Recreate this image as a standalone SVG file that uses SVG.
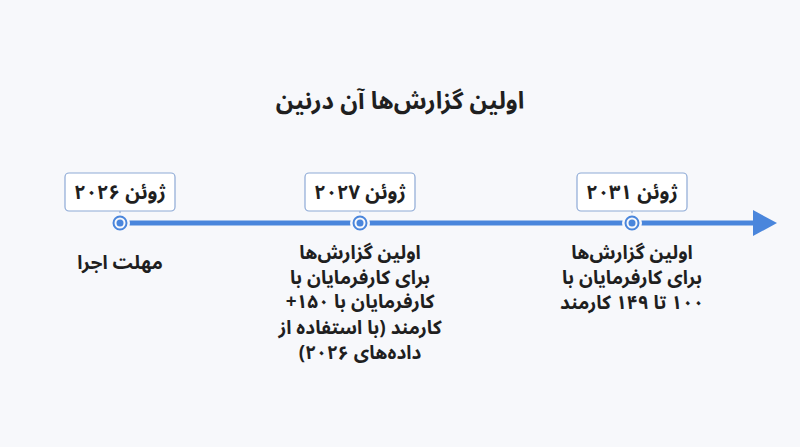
<svg xmlns="http://www.w3.org/2000/svg" width="800" height="447" viewBox="0 0 800 447">
<style>
text{font-family:"Noto Sans Arabic","Vazirmatn","DejaVu Sans","Noto Sans",sans-serif;font-weight:bold;fill:#1f1f1f;direction:rtl;text-anchor:middle}
.title{font-size:24px}
.lbl{font-size:20px}
.desc{font-size:19px}
.box{fill:#ffffff;stroke:#8eaad6;stroke-width:1.2}
.stem{stroke:#8eaad6;stroke-width:1.2}
.ring{fill:#f7f8fb;stroke:#4a86dc;stroke-width:2}
.dot{fill:#4a86dc}
.gap{fill:#f7f8fb}
</style>
<rect width="800" height="447" fill="#f7f8fb"/>
<text class="title" x="400" y="109">اولین گزارش‌ها آن درنین</text>
<g id="connectors">
<line x1="120" y1="223" x2="756" y2="223" stroke="#4a86dc" stroke-width="5"/>
<polygon points="753,210 777,223 753,236" fill="#4a86dc"/>
<line class="stem" x1="120" y1="211" x2="120" y2="216"/>
<line class="stem" x1="360" y1="211" x2="360" y2="216"/>
<line class="stem" x1="632" y1="211" x2="632" y2="216"/>
</g>
<g id="node-2026">
<rect class="box" x="65" y="173" width="110" height="38" rx="4"/>
<text class="lbl" x="120" y="199">ژوئن ۲۰۲۶</text>
<circle class="gap" cx="120" cy="223" r="10"/>
<circle class="ring" cx="120" cy="223" r="6.5"/>
<circle class="dot" cx="120" cy="223" r="3.5"/>
<text class="desc" x="120" y="269">مهلت اجرا</text>
</g>
<g id="node-2027">
<rect class="box" x="305" y="173" width="110" height="38" rx="4"/>
<text class="lbl" x="360" y="199">ژوئن ۲۰۲۷</text>
<circle class="gap" cx="360" cy="223" r="10"/>
<circle class="ring" cx="360" cy="223" r="6.5"/>
<circle class="dot" cx="360" cy="223" r="3.5"/>
<text class="desc" x="360" y="259">اولین گزارش‌ها</text>
<text class="desc" x="360" y="284">برای کارفرمایان با</text>
<text class="desc" x="360" y="308">کارفرمایان با ۱۵۰+</text>
<text class="desc" x="360" y="334">کارمند (با استفاده از</text>
<text class="desc" x="360" y="359">داده‌های ۲۰۲۶)</text>
</g>
<g id="node-2031">
<rect class="box" x="577" y="173" width="110" height="38" rx="4"/>
<text class="lbl" x="632" y="199">ژوئن ۲۰۳۱</text>
<circle class="gap" cx="632" cy="223" r="10"/>
<circle class="ring" cx="632" cy="223" r="6.5"/>
<circle class="dot" cx="632" cy="223" r="3.5"/>
<text class="desc" x="632" y="259">اولین گزارش‌ها</text>
<text class="desc" x="632" y="284">برای کارفرمایان با</text>
<text class="desc" x="632" y="309">۱۰۰ تا ۱۴۹ کارمند</text>
</g>
</svg>
